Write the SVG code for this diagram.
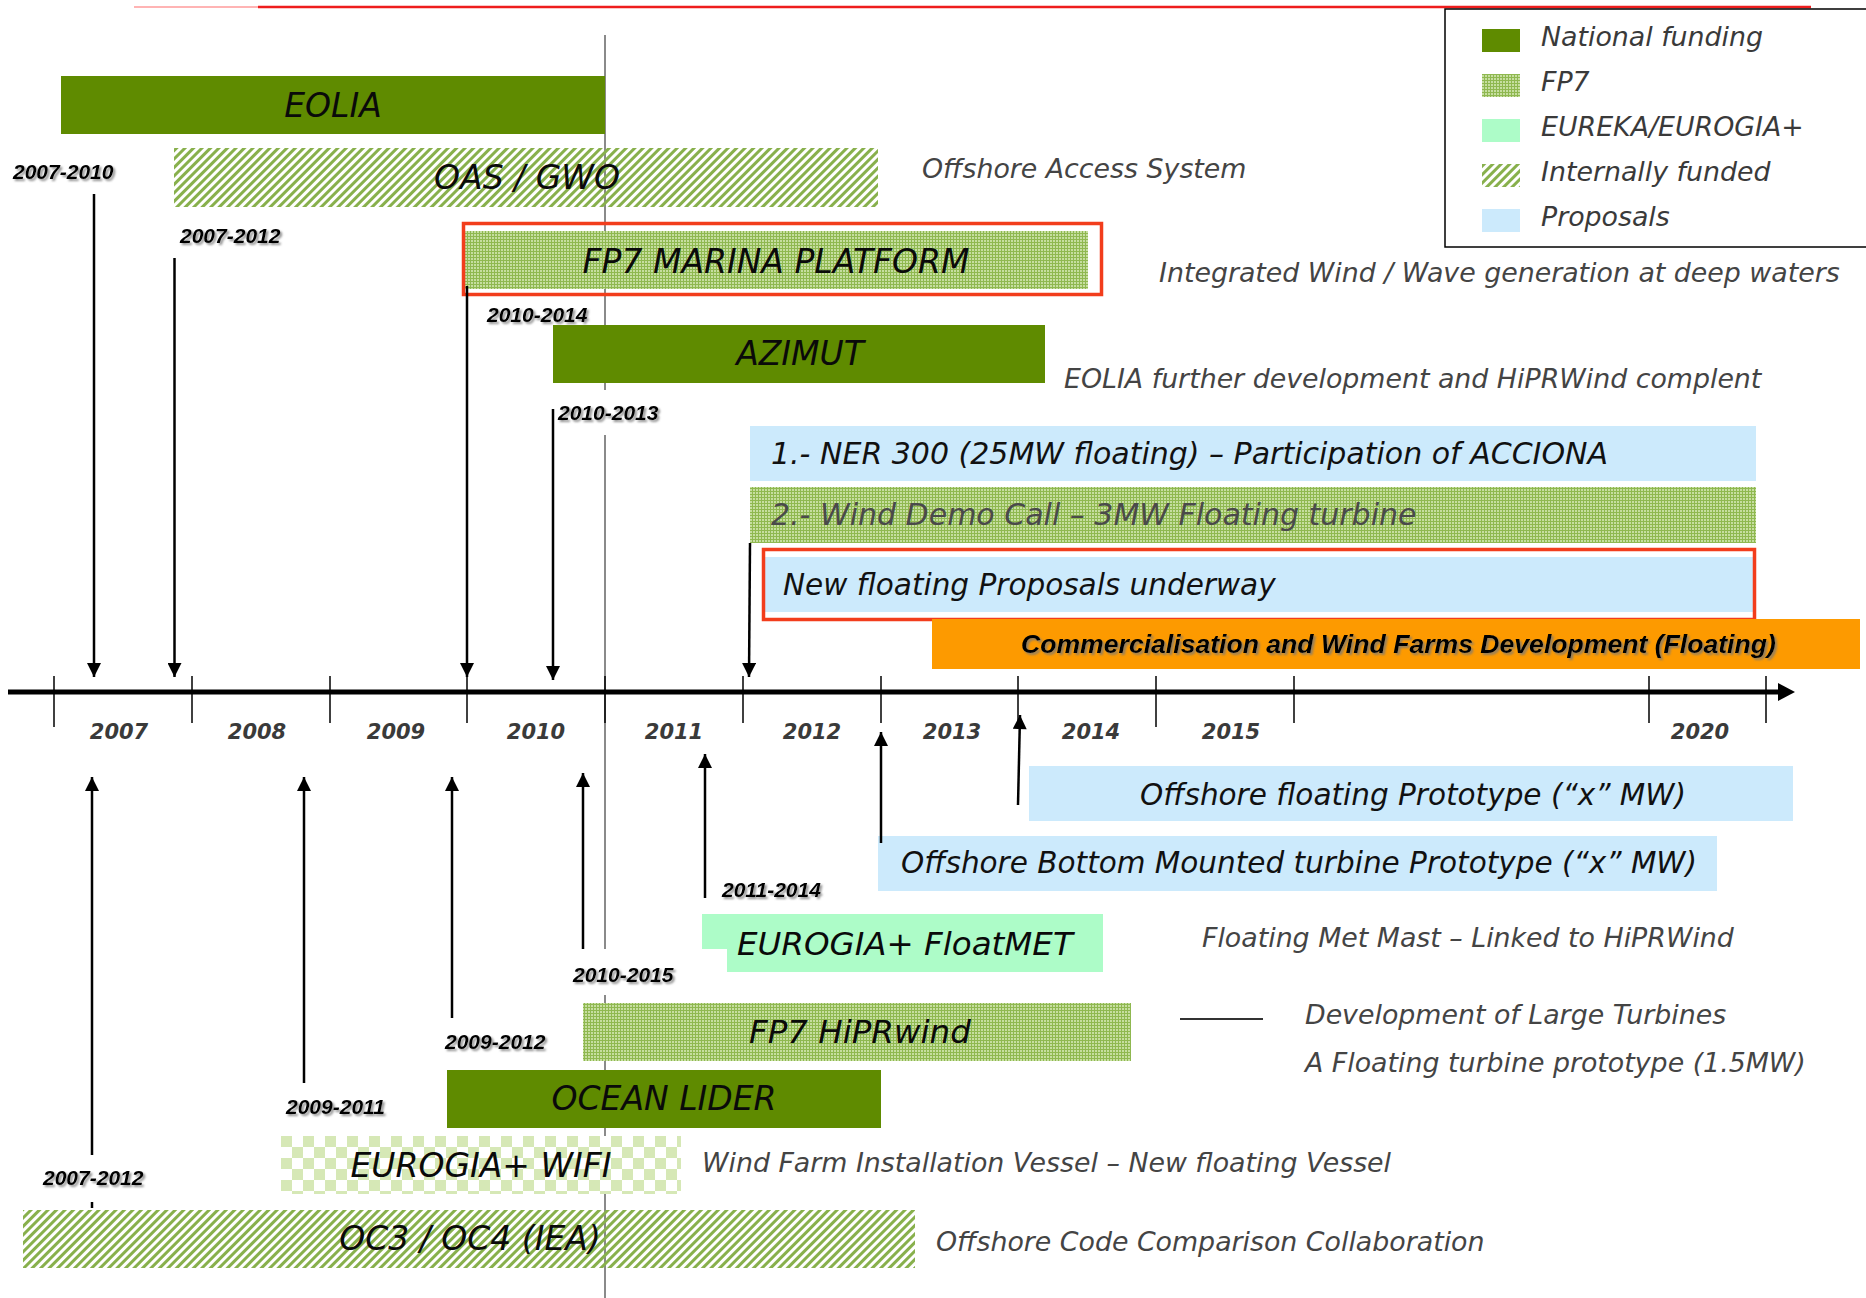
<svg xmlns="http://www.w3.org/2000/svg" width="1866" height="1298" viewBox="0 0 1866 1298">
<style>
.bt{font-family:"DejaVu Sans",Verdana,sans-serif;font-style:italic;font-size:32.5px;fill:#0a0a0a}
.bc{font-size:33px}
.pt{font-family:"DejaVu Sans",Verdana,sans-serif;font-style:italic;font-size:29.5px;fill:#111}
.pt30{font-size:30px}
.ds{font-family:"DejaVu Sans",Verdana,sans-serif;font-style:italic;font-size:26.8px;fill:#444}
.lg{font-family:"DejaVu Sans",Verdana,sans-serif;font-style:italic;font-size:26.8px;fill:#3a3a3a}
.yr{font-family:"DejaVu Sans",Verdana,sans-serif;font-style:italic;font-weight:bold;font-size:21px;fill:#3a3a3a;text-anchor:middle}
.dt{font-family:"Liberation Sans",Arial,sans-serif;font-style:italic;font-weight:bold;font-size:21px;fill:#000;filter:url(#sh)}
.nat{fill:#5f8b00}
.fp7{fill:url(#pFP7)}
.int{fill:url(#pHatch)}
.eur{fill:#adfcc8}
.prop{fill:#cceafc}
.redbox{fill:none;stroke:#f23d1c;stroke-width:3.5}
.arr{stroke:#000;stroke-width:2.5;fill:none;marker-end:url(#ah)}
.ln{stroke:#000;stroke-width:2.5;fill:none}
.tick{stroke:#000;stroke-width:1.5}
.mid{text-anchor:middle}
</style>
<defs>
<pattern id="pHatch" patternUnits="userSpaceOnUse" width="6" height="6" patternTransform="rotate(45)">
<rect x="0" y="0" width="3" height="6" fill="#88b04c"/>
</pattern>
<pattern id="pFP7" patternUnits="userSpaceOnUse" width="3" height="3">
<rect width="3" height="3" fill="#8fb850"/>
<rect width="2" height="2" fill="#c6dea0"/>
</pattern>
<pattern id="pChk" patternUnits="userSpaceOnUse" x="281" y="1136" width="22" height="22">
<rect width="22" height="22" fill="#ffffff"/>
<rect width="11" height="11" fill="#d6e8b6"/>
<rect x="11" y="11" width="11" height="11" fill="#d6e8b6"/>
</pattern>
<marker id="ah" viewBox="0 0 10 10" refX="10" refY="5" markerUnits="userSpaceOnUse" markerWidth="15" markerHeight="14" orient="auto">
<path d="M0,0 L10,5 L0,10 z" fill="#000"/>
</marker>
<filter id="sh" x="-10%" y="-30%" width="130%" height="170%">
<feDropShadow dx="2" dy="2" stdDeviation="1.2" flood-color="#777" flood-opacity="0.8"/>
</filter>
</defs>

<rect width="1866" height="1298" fill="#fff"/>

<!-- top lines -->
<line x1="134" y1="7" x2="258" y2="7" stroke="#ffb4b4" stroke-width="2"/>
<line x1="258" y1="7" x2="1811" y2="7" stroke="#ee1d1d" stroke-width="2.5"/>

<!-- current-date vertical line -->
<g id="today-line" stroke="#8a8a8a" stroke-width="2">
<line x1="605" y1="35" x2="605" y2="390"/>
<line x1="605" y1="435" x2="605" y2="949"/>
<line x1="605" y1="995" x2="605" y2="1298"/>
</g>

<!-- legend -->
<g id="legend">
<rect x="1445" y="9" width="430" height="238" fill="none" stroke="#000" stroke-width="1.5"/>
<rect x="1482" y="29" width="38" height="23" class="nat"/>
<rect x="1482" y="74" width="38" height="23" class="fp7"/>
<rect x="1482" y="119" width="38" height="23" class="eur"/>
<rect x="1482" y="164" width="38" height="23" class="int"/>
<rect x="1482" y="209" width="38" height="23" class="prop"/>
<text x="1541" y="46" class="lg">National funding</text>
<text x="1541" y="91" class="lg">FP7</text>
<text x="1541" y="136" class="lg">EUREKA/EUROGIA+</text>
<text x="1541" y="181" class="lg">Internally funded</text>
<text x="1541" y="226" class="lg">Proposals</text>
</g>

<!-- upper projects -->
<g id="eolia">
<rect x="61" y="76" width="544" height="58" class="nat"/>
<text x="333" y="117" class="bt bc mid">EOLIA</text>
</g>
<g id="oas-gwo">
<rect x="174" y="148" width="704" height="59" class="int"/>
<text x="527" y="189" class="bt bc mid">OAS / GWO</text>
<text x="922" y="178" class="ds">Offshore Access System</text>
</g>
<g id="fp7-marina">
<rect x="464" y="231" width="624" height="58" class="fp7"/>
<rect x="463.5" y="223.5" width="638" height="71" class="redbox"/>
<text x="776" y="273" class="bt bc mid">FP7 MARINA PLATFORM</text>
<text x="1159" y="282" class="ds">Integrated Wind / Wave generation at deep waters</text>
</g>
<g id="azimut">
<rect x="553" y="325" width="492" height="58" class="nat"/>
<text x="800" y="365" class="bt bc mid">AZIMUT</text>
<text x="1064" y="388" class="ds">EOLIA further development and HiPRWind complent</text>
</g>
<g id="ner300">
<rect x="750" y="426" width="1006" height="55" class="prop"/>
<text x="771" y="464" class="pt pt30">1.- NER 300 (25MW floating) – Participation of ACCIONA</text>
</g>
<g id="wind-demo">
<rect x="750" y="487" width="1006" height="56" class="fp7"/>
<text x="771" y="525" class="pt pt30" style="fill:#4a4a4a">2.- Wind Demo Call – 3MW Floating turbine</text>
</g>
<g id="new-floating">
<rect x="765" y="557" width="988" height="55" class="prop"/>
<rect x="763.5" y="549.5" width="991" height="70" class="redbox"/>
<text x="783" y="595" class="pt">New floating Proposals underway</text>
</g>
<g id="commercialisation">
<rect x="932" y="619" width="928" height="50" fill="#fd9a00"/>
<text x="1021" y="653" style="font-family:'Liberation Sans',Arial,sans-serif;font-style:italic;font-weight:bold;font-size:26.6px;fill:#000;filter:url(#sh)">Commercialisation and Wind Farms Development (Floating)</text>
</g>

<!-- timeline axis -->
<g id="axis">
<line x1="8" y1="692" x2="1782" y2="692" stroke="#000" stroke-width="5"/>
<polygon points="1778,683 1795,692 1778,701" fill="#000"/>
<g class="tick">
<line x1="54" y1="676" x2="54" y2="727"/>
<line x1="192" y1="676" x2="192" y2="723"/>
<line x1="330" y1="676" x2="330" y2="723"/>
<line x1="467" y1="676" x2="467" y2="723"/>
<line x1="605" y1="676" x2="605" y2="723"/>
<line x1="743" y1="676" x2="743" y2="723"/>
<line x1="881" y1="676" x2="881" y2="723"/>
<line x1="1018" y1="676" x2="1018" y2="723"/>
<line x1="1156" y1="676" x2="1156" y2="727"/>
<line x1="1294" y1="676" x2="1294" y2="723"/>
<line x1="1649" y1="676" x2="1649" y2="723"/>
<line x1="1766" y1="676" x2="1766" y2="723"/>
</g>
<text x="119" y="739" class="yr">2007</text>
<text x="257" y="739" class="yr">2008</text>
<text x="396" y="739" class="yr">2009</text>
<text x="536" y="739" class="yr">2010</text>
<text x="674" y="739" class="yr">2011</text>
<text x="812" y="739" class="yr">2012</text>
<text x="952" y="739" class="yr">2013</text>
<text x="1091" y="739" class="yr">2014</text>
<text x="1231" y="739" class="yr">2015</text>
<text x="1700" y="739" class="yr">2020</text>
</g>

<!-- lower projects -->
<g id="offshore-floating">
<rect x="1029" y="766" width="764" height="55" class="prop"/>
<text x="1140" y="805" class="pt">Offshore floating Prototype (“x” MW)</text>
</g>
<g id="offshore-bottom">
<rect x="878" y="836" width="839" height="55" class="prop"/>
<text x="901" y="873" class="pt">Offshore Bottom Mounted turbine Prototype (“x” MW)</text>
</g>
<g id="floatmet">
<polygon points="702,914 1103,914 1103,972 727,972 727,949 702,949" class="eur"/>
<text x="737" y="955" class="bt">EUROGIA+ FloatMET</text>
<text x="1202" y="947" class="ds">Floating Met Mast – Linked to HiPRWind</text>
</g>
<g id="fp7-hiprwind">
<rect x="583" y="1003" width="548" height="58" class="fp7"/>
<text x="749" y="1043" class="bt">FP7 HiPRwind</text>
<line x1="1180" y1="1019" x2="1263" y2="1019" stroke="#333" stroke-width="2"/>
<text x="1305" y="1024" class="ds">Development of Large Turbines</text>
<text x="1305" y="1072" class="ds">A Floating turbine prototype (1.5MW)</text>
</g>
<g id="ocean-lider">
<rect x="447" y="1070" width="434" height="58" class="nat"/>
<text x="664" y="1110" class="bt bc mid">OCEAN LIDER</text>
</g>
<g id="eurogia-wifi">
<rect x="281" y="1136" width="400" height="58" fill="url(#pChk)"/>
<text x="481" y="1177" class="bt bc mid">EUROGIA+ WIFI</text>
<text x="702" y="1172" class="ds">Wind Farm Installation Vessel – New floating Vessel</text>
</g>
<g id="oc3-oc4">
<rect x="23" y="1210" width="892" height="58" class="int"/>
<text x="470" y="1250" class="bt bc mid">OC3 / OC4 (IEA)</text>
<text x="936" y="1251" class="ds">Offshore Code Comparison Collaboration</text>
</g>

<!-- date labels -->
<g id="date-labels">
<text x="13" y="179" class="dt">2007-2010</text>
<text x="180" y="243" class="dt">2007-2012</text>
<text x="487" y="322" class="dt">2010-2014</text>
<text x="558" y="420" class="dt">2010-2013</text>
<text x="722" y="897" class="dt">2011-2014</text>
<text x="573" y="982" class="dt">2010-2015</text>
<text x="445" y="1049" class="dt">2009-2012</text>
<text x="286" y="1114" class="dt">2009-2011</text>
<text x="43" y="1185" class="dt">2007-2012</text>
</g>

<!-- connectors -->
<g id="connectors">
<line x1="94" y1="194" x2="94" y2="677" class="arr"/>
<line x1="174.5" y1="258" x2="174.5" y2="677" class="arr"/>
<line x1="467" y1="286" x2="467" y2="677" class="arr"/>
<line x1="553" y1="409" x2="553" y2="680" class="arr"/>
<line x1="750" y1="543" x2="749" y2="677" class="arr"/>
<line x1="92" y1="1155" x2="92" y2="777" class="arr"/>
<line x1="92" y1="1202" x2="92" y2="1208" class="ln"/>
<line x1="304" y1="1083" x2="304" y2="777" class="arr"/>
<line x1="452" y1="1018" x2="452" y2="777" class="arr"/>
<line x1="583" y1="949" x2="583" y2="773" class="arr"/>
<line x1="705" y1="898" x2="705" y2="754" class="arr"/>
<line x1="881" y1="843" x2="881" y2="732" class="arr"/>
<line x1="1018" y1="805" x2="1020" y2="715" class="arr"/>
</g>
</svg>
